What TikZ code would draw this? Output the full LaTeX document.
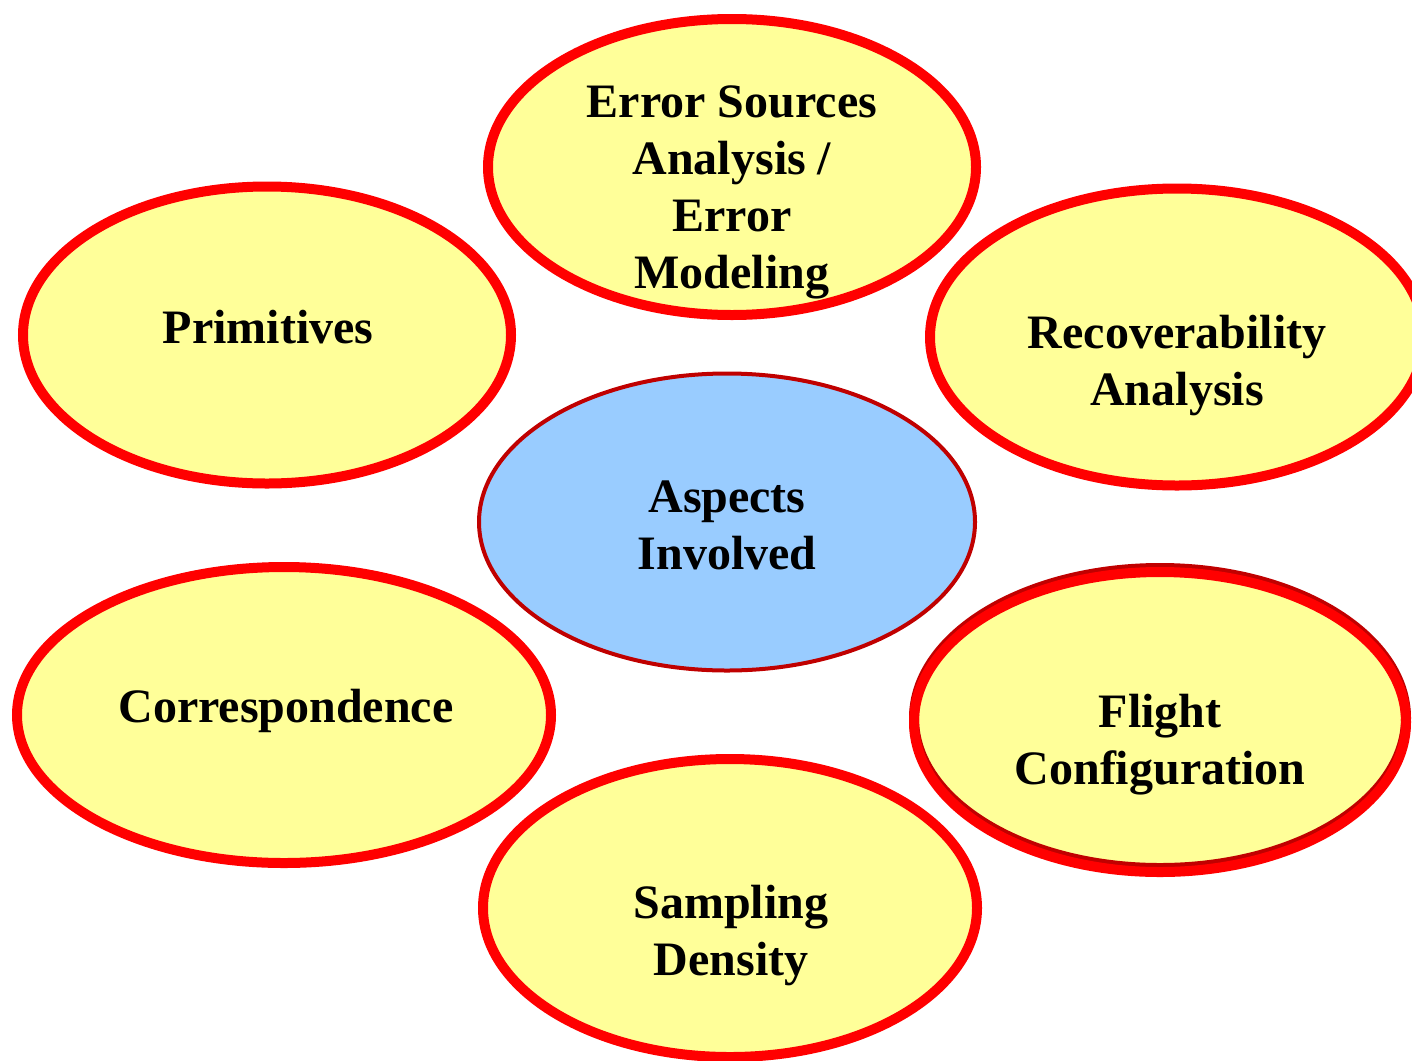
\documentclass[tikz,border=0pt]{standalone}
\usepackage{fontspec}
\setmainfont{Liberation Serif}
\usetikzlibrary{shapes.geometric}
\definecolor{ovalfill}{HTML}{FFFF99}
\definecolor{ovalred}{HTML}{FF0000}
\definecolor{darkred}{HTML}{C00000}
\definecolor{hubblue}{HTML}{99CCFF}
\tikzset{
  bubble/.style={ellipse, draw=ovalred, line width=10pt, fill=ovalfill, inner sep=0pt, outer sep=0pt},
  hub/.style={ellipse, draw=darkred, line width=4pt, fill=hubblue, inner sep=0pt, outer sep=0pt},
  lbl/.style={anchor=base, inner sep=0pt, font=\bfseries\fontsize{48}{57}\selectfont}
}
\begin{document}
\begin{tikzpicture}[x=1pt, y=-1pt]
\useasboundingbox (0,0) rectangle (1412,1060);
\clip (0,0) rectangle (1412,1060);
% ellipses
\node[bubble, minimum width=488pt, minimum height=296pt] (errs) at (732,167) {};
\node[bubble, minimum width=488pt, minimum height=297pt] (prim) at (267,335) {};
\node[bubble, minimum width=494pt, minimum height=297pt] (recov) at (1177,337) {};
\node[hub, minimum width=496pt, minimum height=297pt] (hubc) at (727,522) {};
\node[bubble, minimum width=534pt, minimum height=296pt] (corr) at (284,715) {};
\node[bubble, draw=none, minimum width=492pt, minimum height=300pt] (flight) at (1160,722) {};
\draw[darkred, line width=10pt] ([yshift=4pt]flight.center) ellipse [x radius=246pt, y radius=150pt];
\draw[ovalred, line width=10pt] (flight.center) ellipse [x radius=246pt, y radius=150pt];
\node[bubble, minimum width=494pt, minimum height=298pt] (samp) at (730,908) {};
% labels
\node[lbl] (terrs) at (732,117) {\begin{tabular}[t]{@{}c@{}}Error Sources\\Analysis /\\Error\\Modeling\end{tabular}};
\node[lbl] (tprim) at (268,343) {Primitives};
\node[lbl] (trecov) at (1177,348) {\begin{tabular}[t]{@{}c@{}}Recoverability\\Analysis\end{tabular}};
\node[lbl] (thub) at (727,512) {\begin{tabular}[t]{@{}c@{}}Aspects\\Involved\end{tabular}};
\node[lbl] (tcorr) at (286,722) {Correspondence};
\node[lbl] (tflight) at (1160,727) {\begin{tabular}[t]{@{}c@{}}Flight\\Configuration\end{tabular}};
\node[lbl] (tsamp) at (731,918) {\begin{tabular}[t]{@{}c@{}}Sampling\\Density\end{tabular}};
\end{tikzpicture}
\end{document}
